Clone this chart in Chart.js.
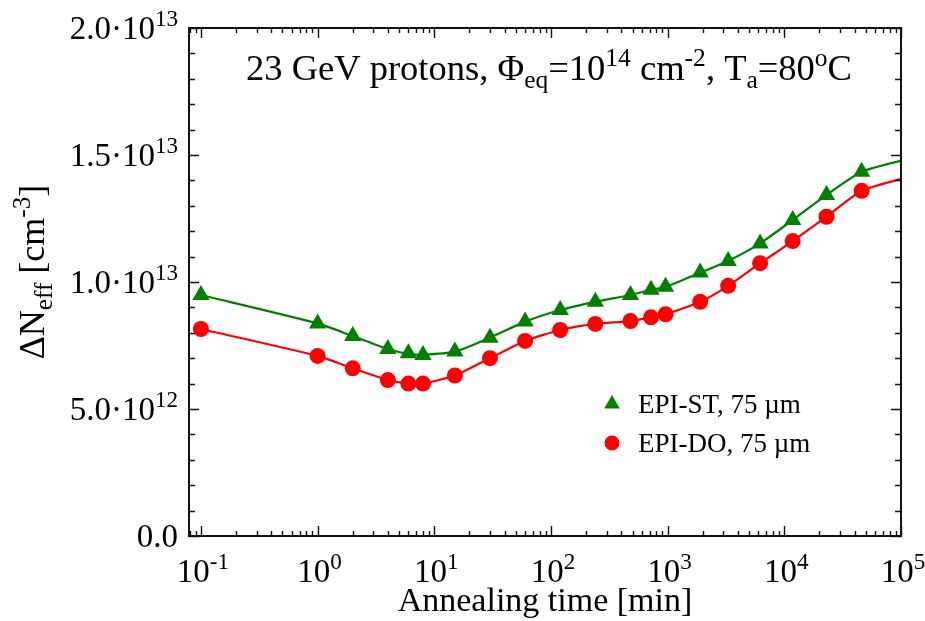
<!DOCTYPE html>
<html>
<head>
<meta charset="utf-8">
<script src="https://cdn.jsdelivr.net/npm/chart.js@4.4.1/dist/chart.umd.min.js"></script>
<style>
  html, body { margin: 0; padding: 0; background: #fff; }
  #wrap { width: 925px; height: 621px; }
</style>
</head>
<body>
<div id="wrap"><canvas id="annealChart"></canvas></div>
<script>
// Annealing times [min]
const timesMin = [0.1, 1, 2, 4, 6, 8, 15, 30, 60, 120, 240, 480, 720, 960, 1900, 3300, 6200, 11800, 23000, 46000];
// Delta N_eff [cm^-3]
const epiSt = [0.949e13, 0.837e13, 0.787e13, 0.736e13, 0.719e13, 0.713e13, 0.726e13, 0.781e13, 0.844e13, 0.890e13,
               0.922e13, 0.949e13, 0.969e13, 0.981e13, 1.037e13, 1.083e13, 1.152e13, 1.244e13, 1.343e13, 1.434e13];
const epiDo = [0.815e13, 0.709e13, 0.660e13, 0.614e13, 0.600e13, 0.600e13, 0.632e13, 0.700e13, 0.768e13, 0.811e13,
               0.835e13, 0.846e13, 0.861e13, 0.873e13, 0.922e13, 0.985e13, 1.074e13, 1.161e13, 1.257e13, 1.359e13];
// fit curves (same points, extended to the axis end)
const fitTimes = [0.1, 1, 2, 4, 6, 8, 15, 30, 60, 120, 240, 480, 720, 960, 1900, 3300, 6200, 11800, 23000, 46000, 100000];
const fitSt = [0.949e13, 0.837e13, 0.787e13, 0.736e13, 0.717e13, 0.714e13, 0.726e13, 0.781e13, 0.844e13, 0.890e13,
               0.922e13, 0.949e13, 0.969e13, 0.981e13, 1.037e13, 1.083e13, 1.152e13, 1.244e13, 1.343e13, 1.434e13, 1.478e13];
const fitDo = [0.815e13, 0.709e13, 0.660e13, 0.614e13, 0.600e13, 0.600e13, 0.632e13, 0.700e13, 0.768e13, 0.811e13,
               0.835e13, 0.846e13, 0.861e13, 0.873e13, 0.922e13, 0.985e13, 1.074e13, 1.161e13, 1.257e13, 1.359e13, 1.406e13];

const legendNames = ["EPI-ST, 75 \u00b5m", "EPI-DO, 75 \u00b5m"];
const yTickValues = [0, 5e12, 1e13, 1.5e13, 2e13];
const yTickLabels = [["0.0", ""], ["5.0\u00b710", "12"], ["1.0\u00b710", "13"], ["1.5\u00b710", "13"], ["2.0\u00b710", "13"]];
const xTickExps = [-1, 0, 1, 2, 3, 4, 5];

const GREEN = "#008000";
const RED = "#ff0000";
const FONT = "'Liberation Serif', 'DejaVu Serif', serif";

// draw text runs: [text, mode] where mode 0 normal, 1 superscript, -1 subscript
function runWidth(ctx, parts, size) {
  let w = 0;
  parts.forEach(([t, m]) => {
    ctx.font = `${m ? size * 0.7 : size}px ${FONT}`;
    w += ctx.measureText(t).width;
  });
  return w;
}
function drawRuns(ctx, parts, x, y, size, align) {
  const w = runWidth(ctx, parts, size);
  let cx = align === "center" ? x - w / 2 : align === "right" ? x - w : x;
  ctx.textAlign = "left";
  ctx.textBaseline = "alphabetic";
  parts.forEach(([t, m]) => {
    ctx.font = `${m ? size * 0.7 : size}px ${FONT}`;
    const dy = m === 1 ? -size * 0.38 : m === -1 ? size * 0.22 : 0;
    ctx.fillText(t, cx, y + dy);
    cx += ctx.measureText(t).width;
  });
}

const decorPlugin = {
  id: "decor",
  afterDraw(chart) {
    const { ctx, chartArea: a, scales: { x, y } } = chart;
    ctx.save();
    ctx.strokeStyle = "#111";
    ctx.lineWidth = 2;
    ctx.strokeRect(a.left, a.top, a.right - a.left, a.bottom - a.top);

    // log ticks on bottom and top
    ctx.lineWidth = 1.4;
    ctx.beginPath();
    for (let e = -2; e <= 5; e++) {
      for (let m = 1; m <= 9; m++) {
        const v = m * Math.pow(10, e);
        if (v < x.min || v > x.max) continue;
        const px = Math.round(x.getPixelForValue(v)) + 0.5;
        const len = m === 1 ? 10 : 5;
        ctx.moveTo(px, a.bottom); ctx.lineTo(px, a.bottom - len);
        ctx.moveTo(px, a.top); ctx.lineTo(px, a.top + len);
      }
    }
    // linear ticks on left and right
    for (let v = 0; v <= 2e13; v += 1e12) {
      const py = Math.round(y.getPixelForValue(v)) + 0.5;
      const len = v % 5e12 === 0 ? 10 : 6;
      ctx.moveTo(a.left, py); ctx.lineTo(a.left + len, py);
      ctx.moveTo(a.right, py); ctx.lineTo(a.right - len, py);
    }
    ctx.stroke();

    ctx.fillStyle = "#000";
    // y tick labels
    yTickValues.forEach((v, i) => {
      const py = y.getPixelForValue(v);
      const [base, sup] = yTickLabels[i];
      const parts = sup ? [[base, 0], [sup, 1]] : [[base, 0]];
      drawRuns(ctx, parts, a.left - 11, py + 11, 33, "right");
    });
    // x tick labels
    xTickExps.forEach(e => {
      const px = x.getPixelForValue(Math.pow(10, e));
      drawRuns(ctx, [["10", 0], [String(e), 1]], px + 2, a.bottom + 46, 33, "center");
    });
    // axis titles
    drawRuns(ctx, [["Annealing time [min]", 0]], (a.left + a.right) / 2, a.bottom + 75, 34, "center");
    ctx.save();
    ctx.translate(44, (a.top + a.bottom) / 2 - 10);
    ctx.rotate(-Math.PI / 2);
    drawRuns(ctx, [["\u0394N", 0], ["eff", -1], [" [cm", 0], ["-3", 1], ["]", 0]], 0, 0, 36, "center");
    ctx.restore();

    // in-plot title
    drawRuns(ctx, [["23 GeV protons, \u03a6", 0], ["eq", -1], ["=10", 0], ["14", 1], [" cm", 0], ["-2", 1],
                   [", T", 0], ["a", -1], ["=80", 0], ["o", 1], ["C", 0]],
             (a.left + a.right) / 2 + 4, a.top + 52, 36.5, "center");

    // legend
    const styles = [
      { pointStyle: "triangle", radius: 9, borderWidth: 0, color: GREEN },
      { pointStyle: "circle", radius: 7.5, borderWidth: 0, color: RED }
    ];
    legendNames.forEach((name, i) => {
      const ly = 404 + i * 39;
      ctx.fillStyle = styles[i].color;
      ctx.strokeStyle = styles[i].color;
      Chart.helpers.drawPoint(ctx, styles[i], 612, ly);
      ctx.fillStyle = "#000";
      drawRuns(ctx, [[name, 0]], 638, ly + 9, 27, "left");
    });
    ctx.restore();
  }
};

new Chart(document.getElementById("annealChart").getContext("2d"), {
  type: "line",
  data: {
    datasets: [
      {
        label: "fit ST",
        data: fitTimes.map((t, i) => ({ x: t, y: fitSt[i] })),
        borderColor: GREEN,
        borderWidth: 2.2,
        pointRadius: 0,
        tension: 0.2
      },
      {
        label: "fit DO",
        data: fitTimes.map((t, i) => ({ x: t, y: fitDo[i] })),
        borderColor: RED,
        borderWidth: 2.2,
        pointRadius: 0,
        tension: 0.2
      },
      {
        label: legendNames[0],
        data: timesMin.map((t, i) => ({ x: t, y: epiSt[i] })),
        showLine: false,
        pointStyle: "triangle",
        pointRadius: 10,
        pointBorderWidth: 0,
        backgroundColor: GREEN,
        borderColor: GREEN
      },
      {
        label: legendNames[1],
        data: timesMin.map((t, i) => ({ x: t, y: epiDo[i] })),
        showLine: false,
        pointStyle: "circle",
        pointRadius: 8,
        pointBorderWidth: 0,
        backgroundColor: RED,
        borderColor: RED
      }
    ]
  },
  options: {
    responsive: true,
    maintainAspectRatio: false,
    animation: false,
    layout: { padding: { left: 189, right: 24, top: 28, bottom: 85 } },
    plugins: {
      legend: { display: false },
      tooltip: { enabled: false }
    },
    scales: {
      x: {
        type: "logarithmic",
        min: 0.079,
        max: 1e5,
        ticks: { display: false },
        grid: { display: false, drawTicks: false },
        border: { display: false }
      },
      y: {
        min: 0,
        max: 2e13,
        ticks: { display: false },
        grid: { display: false, drawTicks: false },
        border: { display: false }
      }
    }
  },
  plugins: [decorPlugin]
});
</script>
</body>
</html>
